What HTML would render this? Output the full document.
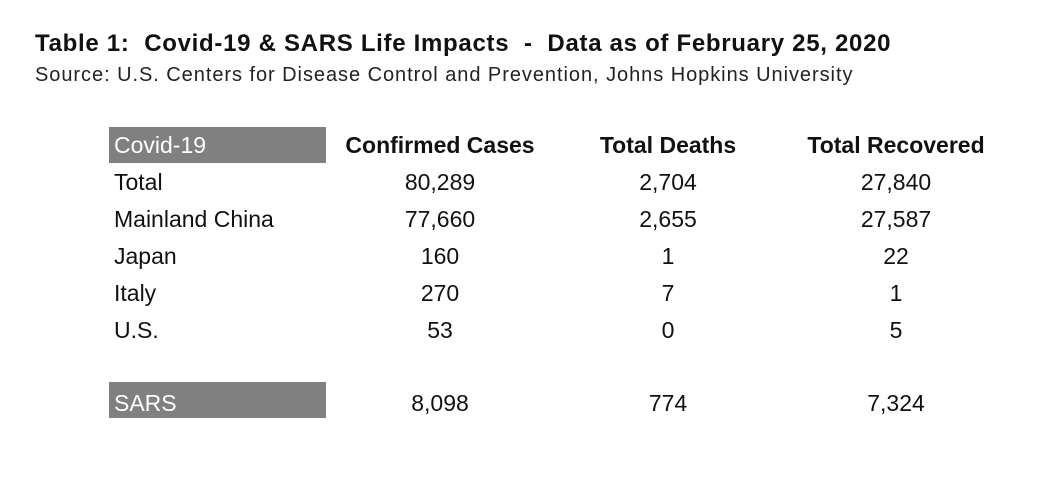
<!DOCTYPE html>
<html><head><style>
body{margin:0;width:1062px;height:487px;background:#fff;font-family:"Liberation Sans",sans-serif;position:relative;overflow:hidden}
.t{position:absolute;white-space:nowrap;line-height:1}
.c{transform:translateX(-50%)}
.box{position:absolute;left:109px;width:217px;height:36px;background:#808080}
.r{font-size:23px;color:#111}
</style></head><body>
<div class="t" style="left:35px;top:32px;font-size:24px;letter-spacing:0.7px;font-weight:bold;color:#111">Table 1:&nbsp; Covid-19 &amp; SARS Life Impacts&nbsp; -&nbsp; Data as of February 25, 2020</div>
<div class="t" style="left:35px;top:65px;font-size:20px;letter-spacing:0.95px;color:#222">Source: U.S. Centers for Disease Control and Prevention, Johns Hopkins University</div>
<div class="box" style="top:127px"></div>
<div class="box" style="top:382px"></div>
<div class="t r" style="left:114px;top:134px;color:#fff">Covid-19</div>
<div class="t r c" style="left:440px;top:134px;font-weight:bold">Confirmed Cases</div>
<div class="t r c" style="left:668px;top:134px;font-weight:bold">Total Deaths</div>
<div class="t r c" style="left:896px;top:134px;font-weight:bold">Total Recovered</div>

<div class="t r" style="left:114px;top:171px">Total</div>
<div class="t r c" style="left:440px;top:171px">80,289</div>
<div class="t r c" style="left:668px;top:171px">2,704</div>
<div class="t r c" style="left:896px;top:171px">27,840</div>

<div class="t r" style="left:114px;top:208px">Mainland China</div>
<div class="t r c" style="left:440px;top:208px">77,660</div>
<div class="t r c" style="left:668px;top:208px">2,655</div>
<div class="t r c" style="left:896px;top:208px">27,587</div>

<div class="t r" style="left:114px;top:245px">Japan</div>
<div class="t r c" style="left:440px;top:245px">160</div>
<div class="t r c" style="left:668px;top:245px">1</div>
<div class="t r c" style="left:896px;top:245px">22</div>

<div class="t r" style="left:114px;top:282px">Italy</div>
<div class="t r c" style="left:440px;top:282px">270</div>
<div class="t r c" style="left:668px;top:282px">7</div>
<div class="t r c" style="left:896px;top:282px">1</div>

<div class="t r" style="left:114px;top:319px">U.S.</div>
<div class="t r c" style="left:440px;top:319px">53</div>
<div class="t r c" style="left:668px;top:319px">0</div>
<div class="t r c" style="left:896px;top:319px">5</div>

<div class="t r" style="left:114px;top:392px;color:#fff">SARS</div>
<div class="t r c" style="left:440px;top:392px">8,098</div>
<div class="t r c" style="left:668px;top:392px">774</div>
<div class="t r c" style="left:896px;top:392px">7,324</div>
</body></html>
